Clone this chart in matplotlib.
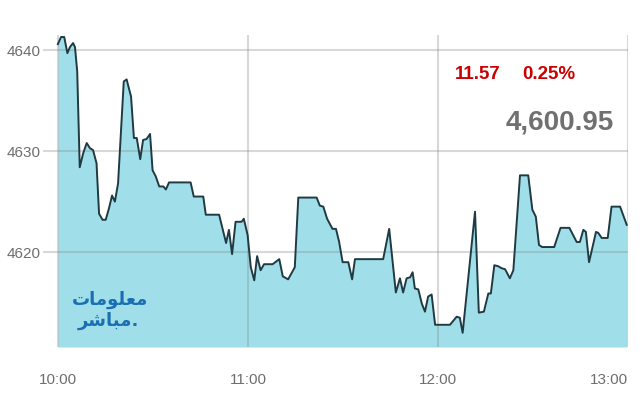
import matplotlib
matplotlib.use("Agg")
import matplotlib.pyplot as plt
from matplotlib import font_manager

# minutes after 10:00 and index level
minutes = [0, 1, 2, 3, 3.8, 4.8, 5.4, 6.1, 6.9, 8.0, 9.1, 10.1, 11.1, 12.2, 13.0, 14.1, 15.1,
           16.1, 17.1, 18.0, 19.0, 20.8, 21.7, 23.1, 24.0, 24.9, 26.0, 26.9, 28.0, 29.1, 29.9,
           30.9, 32.0, 33.3, 34.1, 35.1, 41.9, 42.9, 45.9, 46.7, 50.9, 53.1, 54.0, 55.0, 56.1,
           58.0, 58.7, 59.9, 60.9, 62.0, 62.9, 64.0, 65.1, 67.8, 69.9, 71.0, 72.7, 74.8, 75.9,
           81.7, 82.7, 83.8, 85.0, 86.7, 87.8, 88.8, 89.9, 91.7, 92.9, 93.8, 102.7, 104.6,
           106.7, 108.0, 109.0, 110.1, 111.2, 112.0, 112.7, 113.8, 114.9, 115.9, 116.9, 118.0,
           119.1, 123.8, 125.9, 126.9, 127.8, 131.7, 132.9, 134.5, 135.9, 136.7, 137.8, 139.0,
           140.1, 141.2, 142.7, 143.8, 145.9, 148.5, 149.8, 150.9, 151.9, 152.9, 156.7, 158.7,
           161.5, 163.8, 164.8, 165.9, 166.7, 167.7, 169.9, 170.6, 171.7, 173.6, 174.8, 177.5,
           179.6]
index = [4640.6, 4641.3, 4641.3, 4639.7, 4640.3, 4640.7, 4640.3, 4637.9, 4628.4, 4629.8,
         4630.8, 4630.3, 4630.1, 4628.8, 4623.8, 4623.2, 4623.2, 4624.3, 4625.6, 4625.0,
         4626.8, 4636.9, 4637.1, 4635.4, 4631.3, 4631.3, 4629.2, 4631.1, 4631.2, 4631.7,
         4628.1, 4627.5, 4626.5, 4626.5, 4626.2, 4626.9, 4626.9, 4625.5, 4625.5, 4623.7,
         4623.7, 4620.9, 4622.2, 4619.8, 4623.0, 4623.0, 4623.3, 4621.7, 4618.5, 4617.2,
         4619.6, 4618.2, 4618.8, 4618.8, 4619.3, 4617.6, 4617.3, 4618.5, 4625.4, 4625.4,
         4624.6, 4624.5, 4623.3, 4622.3, 4622.3, 4621.0, 4619.0, 4619.0, 4617.3, 4619.3,
         4619.3, 4622.3, 4616.0, 4617.4, 4616.0, 4617.4, 4617.5, 4618.0, 4616.4, 4616.3,
         4614.9, 4614.1, 4615.6, 4615.8, 4612.8, 4612.8, 4613.6, 4613.5, 4612.0, 4624.0,
         4614.0, 4614.1, 4615.9, 4615.9, 4618.7, 4618.6, 4618.4, 4618.3, 4617.4, 4618.2,
         4627.6, 4627.6, 4624.2, 4623.5, 4620.7, 4620.5, 4620.5, 4622.4, 4622.4, 4621.0,
         4621.0, 4622.2, 4622.0, 4619.0, 4622.0, 4621.9, 4621.4, 4621.4, 4624.5, 4624.5,
         4622.7]

x_ticks = [0, 60, 120, 180]
x_labels = ["10:00", "11:00", "12:00", "13:00"]
y_ticks = [4620, 4630, 4640]

change = "11.57"
change_pct = "0.25%"
last_value = "4,600.95"
# "معلومات" / "مباشر." in joined presentation forms, visual order
logo_line1 = "\ufe95\ufe8e\ufee3\ufeee\ufee0\ufecc\ufee3"
logo_line2 = "\ufeae\ufeb7\ufe8e\ufe92\ufee3."

names = {f.name for f in font_manager.fontManager.ttflist}
narrow = "Liberation Sans Narrow" in names
tick_font = "Liberation Sans Narrow" if narrow else "Liberation Sans"
tick_size = 13 if narrow else 11

fig = plt.figure(figsize=(6.4, 4.0), dpi=100)
ax = fig.add_axes([43 / 640, 1 - 347 / 400, (628 - 43) / 640, (347 - 35) / 400])

y_bottom = 4610.6
ax.fill_between(minutes, index, y_bottom, color="#a0dfe9", lw=0, zorder=1)
ax.plot(minutes, index, color="#1f3a42", lw=1.4, zorder=3)

ax.set_xlim(-4.7, 180)
ax.set_ylim(y_bottom, 4641.5)

ax.set_xticks(x_ticks)
ax.set_xticklabels(x_labels)
ax.set_yticks(y_ticks)
ax.grid(True, color="#808080", alpha=0.3, lw=1.5, zorder=2)
ax.set_axisbelow(False)
for s in ax.spines.values():
    s.set_visible(False)

ax.tick_params(length=0, colors="#6e6e6e", labelsize=tick_size)
ax.tick_params(axis="x", pad=19)
ax.tick_params(axis="y", pad=2)
for lab in ax.get_xticklabels() + ax.get_yticklabels():
    lab.set_family(tick_font)
ax.get_xticklabels()[-1].set_horizontalalignment("right")

ax.text(0.704, 0.872, change, transform=ax.transAxes, color="#cc0000", fontsize=13.5,
        fontweight="bold", family="Liberation Sans", va="center", ha="left")
ax.text(0.819, 0.872, change_pct, transform=ax.transAxes, color="#cc0000", fontsize=13.5,
        fontweight="bold", family="Liberation Sans", va="center", ha="left")
ax.text(0.976, 0.718, last_value, transform=ax.transAxes, color="#707070", fontsize=20,
        fontweight="bold", family="Liberation Sans", va="center", ha="right")

fig.text(110 / 640, 1 - 300 / 400, logo_line1, color="#1a6fb3", fontsize=13,
         fontweight="bold", family="DejaVu Sans", ha="center", va="center", zorder=5)
fig.text(108 / 640, 1 - 321 / 400, logo_line2, color="#1a6fb3", fontsize=13,
         fontweight="bold", family="DejaVu Sans", ha="center", va="center", zorder=5)

fig.savefig("out.png", dpi=100)
